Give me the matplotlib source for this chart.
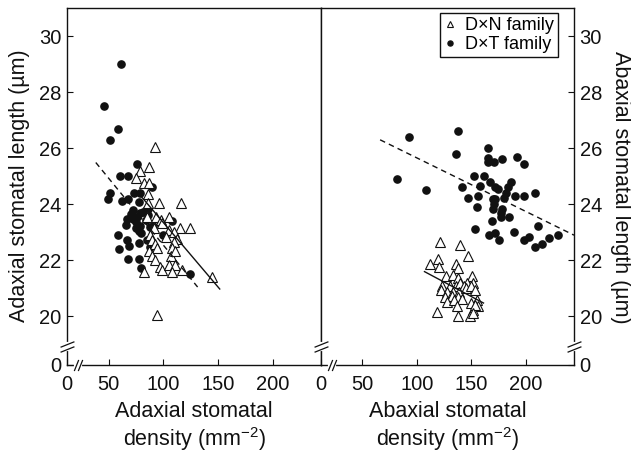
import matplotlib
matplotlib.use('Agg')
import matplotlib.pyplot as plt
from matplotlib.transforms import blended_transform_factory

plt.rcParams['font.family'] = ['Liberation Sans', 'DejaVu Sans']
plt.rcParams['mathtext.default'] = 'regular'

# adaxial panel, D x T family (filled circles)
ad_dt_x = [61, 46, 58.5, 51, 76.3, 60.4, 67.4, 89.4, 51.2, 49.6, 73.5, 78.4, 62.2, 67.7, 77.5,
           72.6, 70.8, 67.1, 65.9, 72.6, 75.7, 78.7, 81.8, 84.2, 86.3, 75.0, 78.7, 75.0, 77.5,
           79.6, 83.9, 86.3, 87.9, 90.9, 108.1, 100.1, 85.4, 87.6, 58.8, 59.7, 67.1, 68.9,
           67.7, 77.5, 78.1, 79.6, 124]
ad_dt_y = [29.0, 27.5, 26.7, 26.3, 25.43, 25.0, 25.0, 24.6, 24.4, 24.18, 24.42, 24.42, 24.12, 24.18, 24.07,
           23.80, 23.66, 23.47, 23.27, 23.48, 23.56, 23.68, 23.74, 23.80, 23.84, 23.36, 23.23, 23.15, 23.06,
           22.97, 23.44, 23.62, 23.2, 23.23, 23.41, 22.91, 22.73, 22.49, 22.91, 22.42, 22.73, 22.52,
           22.04, 22.61, 22.04, 21.72, 21.51]

# adaxial panel, D x N family (open triangles)
ad_dn_x = [92.5, 86.7, 78.7, 74.8, 82.7, 87, 85.8, 85.8, 95.9, 116.3, 84.9, 93.4, 98.3, 105.6,
           91.8, 98.9, 114.8, 124.3, 105.6, 109.3, 102.3, 112.4, 109.3, 87.9, 89.7, 92.5, 87,
           94.6, 108.3, 106.9, 110.5, 89.4, 92.5, 97.3, 99.2, 105.3, 111.1, 107.8, 117.2, 82.7,
           144.8, 94.6]
ad_dn_y = [26.06, 25.34, 25.17, 24.95, 24.75, 24.77, 24.37, 24.06, 24.06, 24.04, 23.56, 23.55, 23.44, 23.55,
           23.15, 23.33, 23.14, 23.14, 23.09, 23.03, 22.83, 22.76, 22.65, 22.91, 22.73, 22.59, 22.35,
           22.44, 22.44, 22.14, 22.35, 22.14, 22.03, 21.76, 21.64, 21.82, 21.82, 21.57, 21.64, 21.57,
           21.42, 20.06]

# abaxial panel, D x T family
ab_dt_x = [81.8, 93.1, 108.7, 137.5, 136.2, 141.7, 147.2, 152.5, 155.2, 152.8, 157.7, 156.4, 161.3,
           165, 165, 165, 166.8, 170.2, 178.4, 191.3, 197.7, 171.1, 174, 169.3, 171.7, 170.2, 169.6,
           177.9, 177.2, 179.4, 181.5, 183.4, 186.4, 190.1, 198.3, 208.4, 168.7, 177, 184.3, 166,
           171.7, 174.8, 189.4, 198.3, 202.3, 208.4, 215.1, 211.2, 221.3, 229.3]
ab_dt_y = [24.89, 26.41, 24.51, 26.62, 25.80, 24.61, 24.22, 25.01, 23.91, 23.12, 24.67, 24.31, 25.01,
           26.02, 25.64, 25.52, 24.79, 25.50, 25.61, 25.70, 25.44, 24.61, 24.55, 24.19, 24.19, 24.01, 23.83,
           23.83, 23.68, 24.22, 24.40, 24.63, 24.81, 24.28, 24.30, 24.42, 23.42, 23.53, 23.53, 22.91,
           22.99, 22.73, 23.03, 22.73, 22.82, 22.49, 22.59, 23.24, 22.79, 22.91]

# abaxial panel, D x N family
ab_dn_x = [121.3, 139.9, 147.2, 111.5, 119.7, 120.4, 135.7, 137.2, 126.8, 133.2, 137.2, 150.4,
           122.8, 130.5, 135.7, 139.6, 145.8, 151.8, 143, 122.2, 128, 133.2, 138.7, 145.1, 149.7,
           153.4, 125.9, 132.3, 137.8, 127.4, 134, 141.2, 155, 149.7, 136.6, 156.4, 151.8, 153.4,
           118.2, 137.5, 148.8, 151.8]
ab_dn_y = [22.65, 22.55, 22.17, 21.87, 22.05, 21.78, 21.87, 21.72, 21.46, 21.49, 21.37, 21.46,
           21.07, 21.10, 21.07, 21.19, 21.2, 21.19, 21.07, 20.93, 20.89, 20.89, 20.86, 21.01, 21.07,
           20.93, 20.71, 20.73, 20.71, 20.53, 20.59, 20.61, 20.59, 20.48, 20.36, 20.36, 20.24, 20.40,
           20.16, 20.02, 20.0, 20.12]

# regression lines (end points)
ad_dn_fit_x = [80, 151.5]
ad_dn_fit_y = [24.27, 20.98]
ad_dt_fit_x = [38.3, 131.3]
ad_dt_fit_y = [25.49, 21.05]
ab_dt_fit_x = [66.2, 244]
ab_dt_fit_y = [26.3, 22.9]
ab_dn_fit_x = [106.9, 161]
ab_dn_fit_y = [21.60, 20.48]

xticks = [12, 50, 100, 150, 200]
xticklabels = ['0', '50', '100', '150', '200']
ybot = 18.27
yticks = [ybot, 20, 22, 24, 26, 28, 30]
yticklabels = ['0', '20', '22', '24', '26', '28', '30']

fig = plt.figure(figsize=(6.31, 4.53), dpi=100)
ax1 = fig.add_axes([67 / 631, 1 - 365 / 453, 254 / 631, 357 / 453])
ax2 = fig.add_axes([321 / 631, 1 - 365 / 453, 253 / 631, 357 / 453])


def draw_panel(ax, dt_x, dt_y, dn_x, dn_y, fdt_x, fdt_y, fdn_x, fdn_y):
    ax.plot(dt_x, dt_y, 'o', ms=5.2, color='#111111', mec='#111111', ls='none', label='D\u00d7T family')
    ax.plot(dn_x, dn_y, '^', ms=6.5, mfc='white', mec='#111111', mew=0.8, ls='none', label='D\u00d7N family')
    ax.plot(fdt_x, fdt_y, '--', color='#111111', lw=1, dashes=(4, 3))
    ax.plot(fdn_x, fdn_y, '-', color='#111111', lw=1)
    ax.set_xlim(12, 244)
    ax.set_ylim(ybot, 31)
    ax.set_xticks(xticks)
    ax.set_xticklabels(xticklabels)
    ax.set_yticks(yticks)
    ax.set_yticklabels(yticklabels)
    ax.tick_params(direction='in', length=4, width=0.8, labelsize=14.5, colors='#111111')
    ax.tick_params(axis='x', pad=7)
    ax.tick_params(axis='y', pad=4)
    for s in ax.spines.values():
        s.set_linewidth(1)
        s.set_color('#111111')


draw_panel(ax1, ad_dt_x, ad_dt_y, ad_dn_x, ad_dn_y, ad_dt_fit_x, ad_dt_fit_y, ad_dn_fit_x, ad_dn_fit_y)
draw_panel(ax2, ab_dt_x, ab_dt_y, ab_dn_x, ab_dn_y, ab_dt_fit_x, ab_dt_fit_y, ab_dn_fit_x, ab_dn_fit_y)

ax1.tick_params(axis='y', left=True, right=False)
ax2.tick_params(axis='y', left=False, right=True, labelleft=False, labelright=True)


def break_y(ax, xa, yv):
    tr = blended_transform_factory(ax.transAxes, ax.transData)
    ax.plot([xa, xa], [yv - 0.09, yv + 0.09], color='white', lw=3, transform=tr, clip_on=False, zorder=5)
    for dy in (-0.09, 0.09):
        ax.plot([xa], [yv + dy], marker=[(-1, -0.4), (1, 0.4)], ms=10, color='#111111', mew=0.9,
                ls='none', transform=tr, clip_on=False, zorder=6)


def break_x(ax, xv, ya):
    tr = blended_transform_factory(ax.transData, ax.transAxes)
    ax.plot([xv - 1.8, xv + 1.8], [ya, ya], color='white', lw=3, transform=tr, clip_on=False, zorder=5)
    for dx in (-1.8, 1.8):
        ax.plot([xv + dx], [ya], marker=[(-0.4, -1), (0.4, 1)], ms=8, color='#111111', mew=0.9,
                ls='none', transform=tr, clip_on=False, zorder=6)


break_y(ax1, 0, 18.93)
break_y(ax2, 0, 18.93)
break_y(ax2, 1, 18.93)
break_x(ax1, 22, 0)
break_x(ax2, 22.5, 0)

# legend: triangles first
h, l = ax2.get_legend_handles_labels()
leg = ax2.legend(h[::-1], l[::-1], loc='upper right', bbox_to_anchor=(0.937, 0.987), borderaxespad=0,
                 fontsize=13, markerscale=0.7, handlelength=0.6, handletextpad=0.5,
                 borderpad=0.25, labelspacing=0.1, fancybox=False, framealpha=1)
leg.get_frame().set_edgecolor('#111111')
leg.get_frame().set_linewidth(1)

fig.text(20 / 631, 1 - 186 / 453, 'Adaxial stomatal length (\u00b5m)', rotation=90,
         ha='center', va='center', fontsize=15.5, color='#111111')
fig.text(621 / 631, 1 - 187 / 453, 'Abaxial stomatal length (\u00b5m)', rotation=270,
         ha='center', va='center', fontsize=15.5, color='#111111')
fig.text(194 / 631, 1 - 427 / 453, 'Adaxial stomatal\ndensity (mm$^{\u22122}$)',
         ha='center', va='center', fontsize=15.5, color='#111111', linespacing=1.15)
fig.text(447.5 / 631, 1 - 427 / 453, 'Abaxial stomatal\ndensity (mm$^{\u22122}$)',
         ha='center', va='center', fontsize=15.5, color='#111111', linespacing=1.15)

fig.savefig('out.png', dpi=100)
